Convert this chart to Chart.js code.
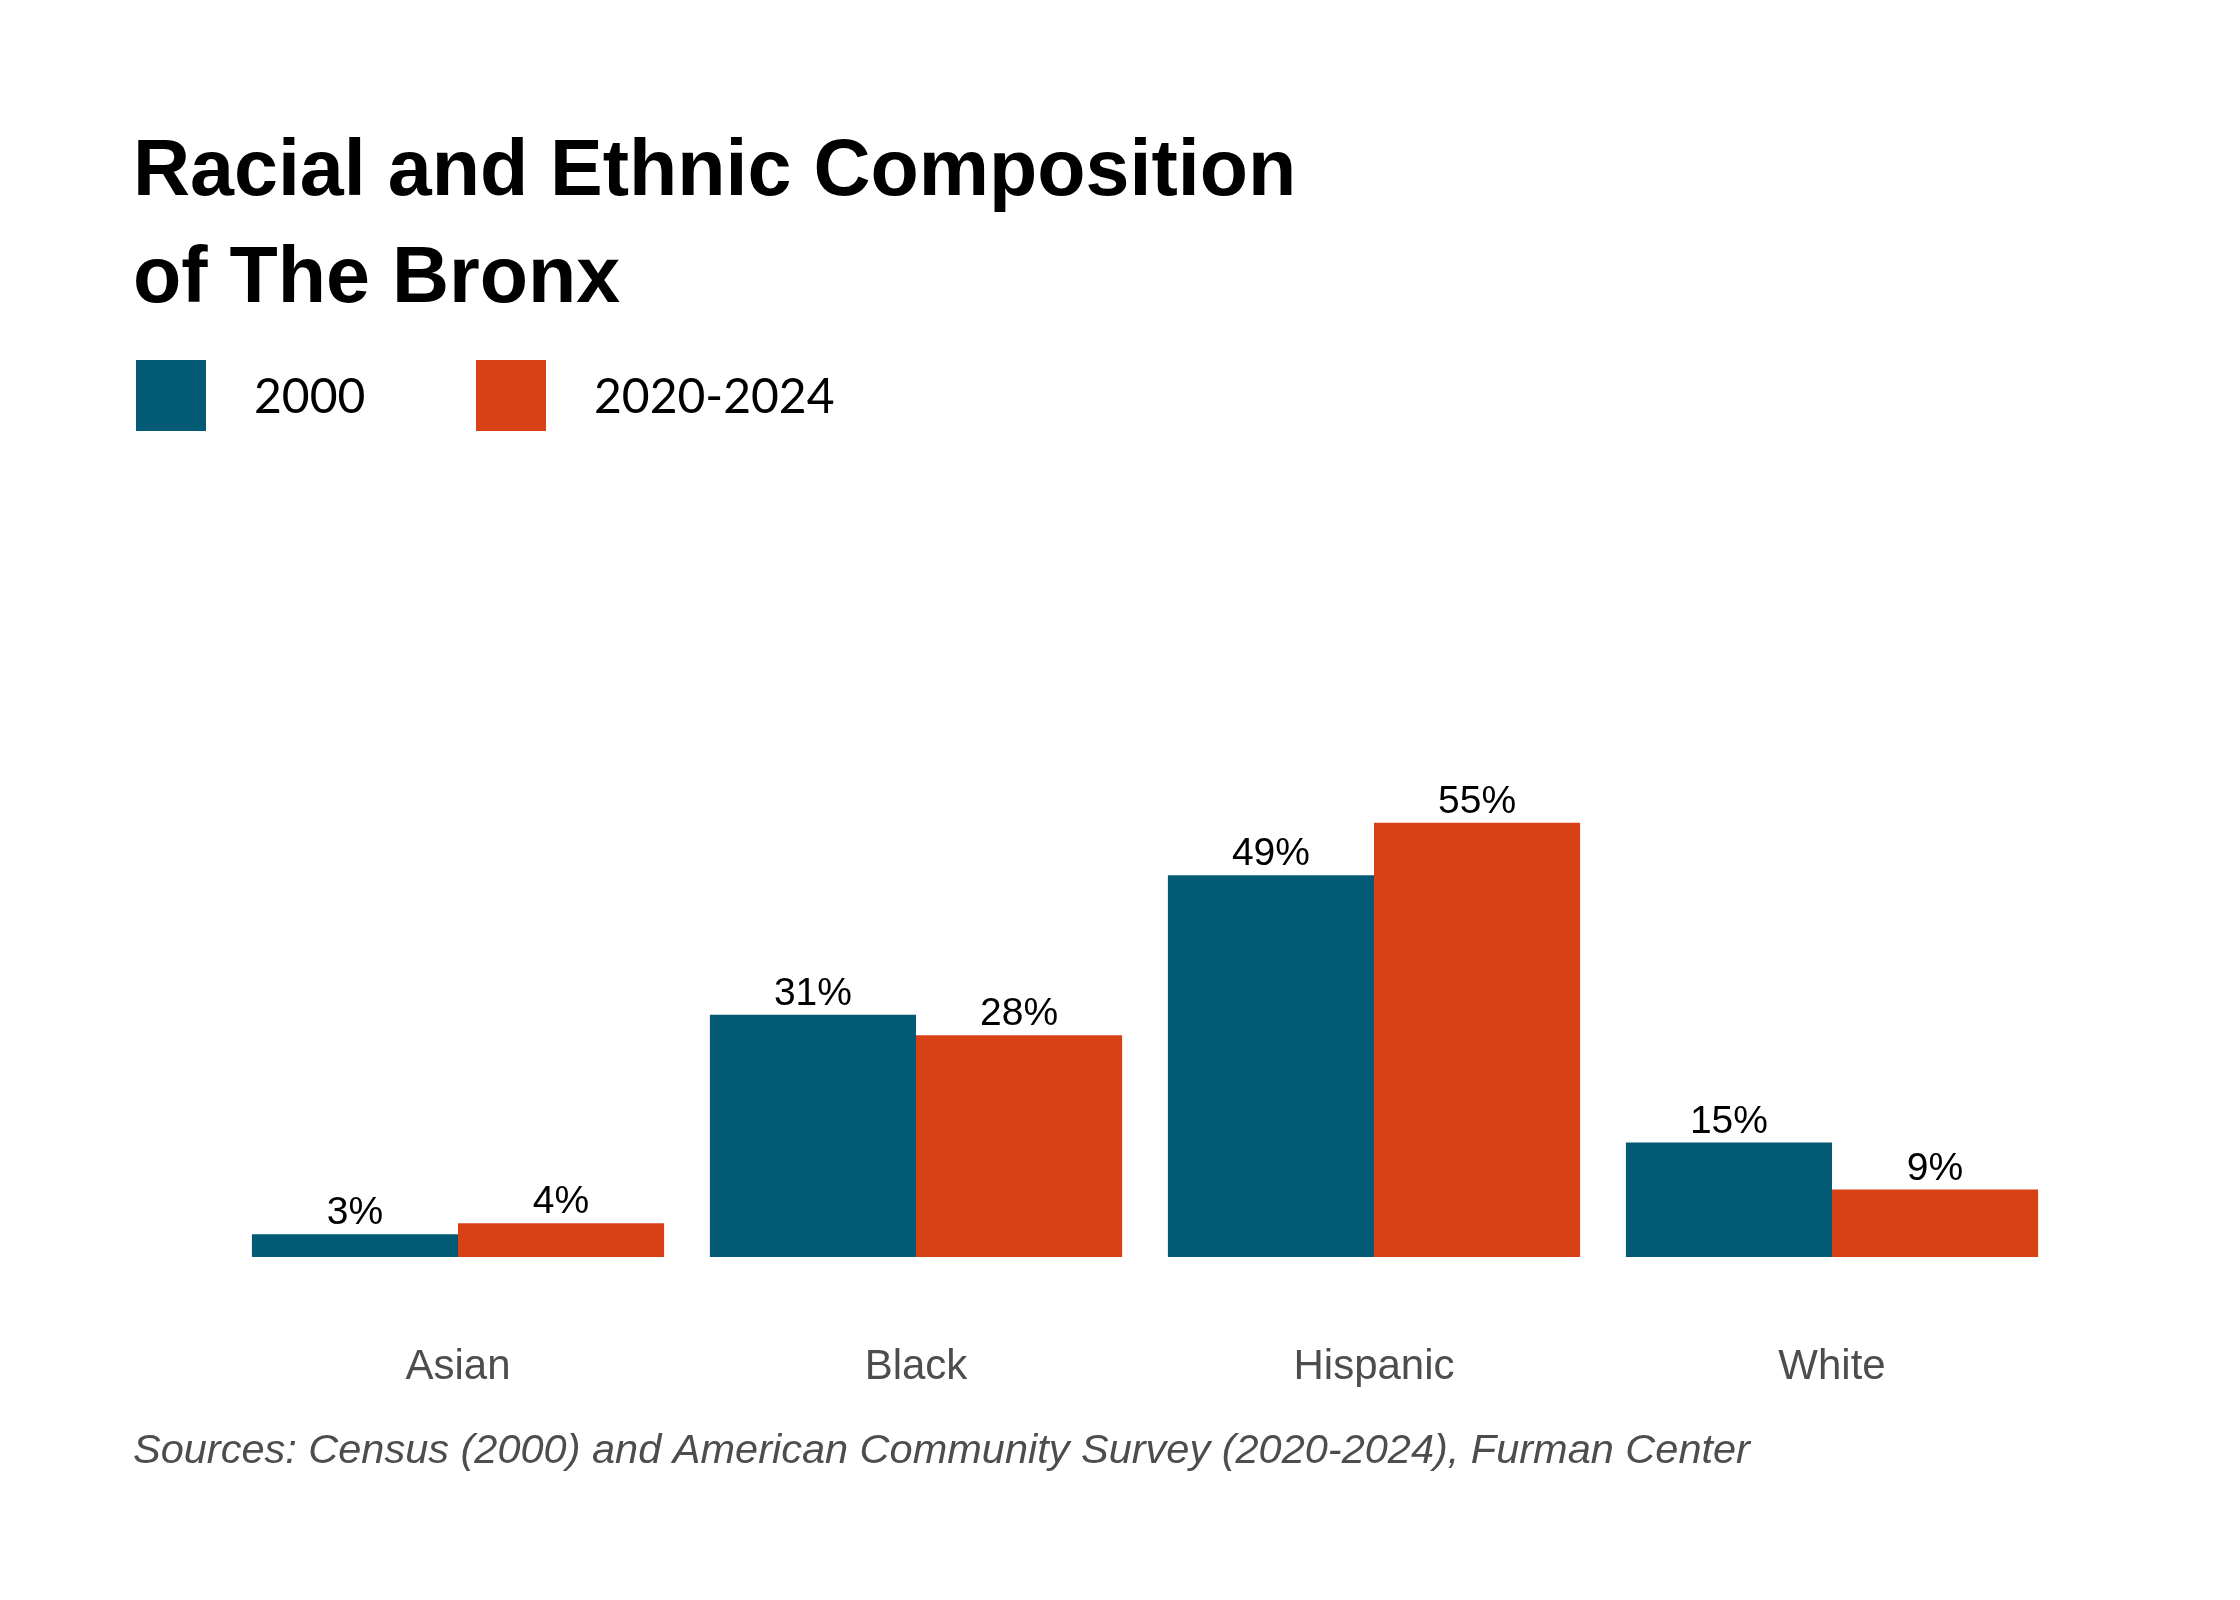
<!DOCTYPE html>
<html>
<head>
<meta charset="utf-8">
<script src="https://cdn.jsdelivr.net/npm/chart.js@4.4.1/dist/chart.umd.min.js"></script>
<style>
html, body { margin: 0; padding: 0; background: #ffffff; }
canvas { display: block; }
</style>
</head>
<body>
<canvas id="chart" width="2240" height="1600"></canvas>
<script>
// ---- data ----
const categories = ['Asian', 'Black', 'Hispanic', 'White'];
const seriesNames = ['2000', '2020-2024'];
const values2000 = [2.9, 30.9, 48.7, 14.6];
const values2020 = [4.3, 28.3, 55.4, 8.6];
const seriesColors = ['#035a74', '#d74115'];
const titleLines = ['Racial and Ethnic Composition', 'of The Bronx'];
const sourceText = 'Sources: Census (2000) and American Community Survey (2020-2024), Furman Center';
const yMax = 100;

const FONT = "'Liberation Sans', Arial, sans-serif";

// value labels above each bar
const barLabels = {
  id: 'barLabels',
  afterDatasetsDraw(chart) {
    const ctx = chart.ctx;
    ctx.save();
    ctx.font = '39px ' + FONT;
    ctx.fillStyle = '#000000';
    ctx.textAlign = 'center';
    ctx.textBaseline = 'alphabetic';
    chart.data.datasets.forEach((ds, i) => {
      const meta = chart.getDatasetMeta(i);
      meta.data.forEach((el, j) => {
        ctx.fillText(Math.round(ds.data[j]) + '%', el.x, el.y - 10);
      });
    });
    ctx.restore();
  }
};

// legend drawn from the datasets
const topLegend = {
  id: 'topLegend',
  afterDraw(chart) {
    const ctx = chart.ctx;
    const boxX = [136, 476];
    ctx.save();
    ctx.font = '48px Lato, ' + FONT;
    ctx.textBaseline = 'middle';
    ctx.textAlign = 'left';
    chart.data.datasets.forEach((ds, i) => {
      const x = boxX[i];
      ctx.fillStyle = ds.backgroundColor;
      ctx.fillRect(x, 360, 70, 71);
      ctx.fillStyle = '#000000';
      ctx.fillText(ds.label, x + 118, 398);
    });
    ctx.restore();
  }
};

new Chart(document.getElementById('chart'), {
  type: 'bar',
  data: {
    labels: categories,
    datasets: [
      { label: seriesNames[0], data: values2000, backgroundColor: seriesColors[0], borderWidth: 0 },
      { label: seriesNames[1], data: values2020, backgroundColor: seriesColors[1], borderWidth: 0 }
    ]
  },
  options: {
    responsive: false,
    devicePixelRatio: 1,
    animation: false,
    events: [],
    layout: { padding: { top: 0, left: 133, right: 179, bottom: 123.4 } },
    datasets: { bar: { categoryPercentage: 0.9, barPercentage: 1.0 } },
    scales: {
      x: {
        grid: { display: false, drawTicks: false },
        border: { display: false },
        ticks: { color: '#4d4d4d', font: { family: FONT, size: 42 }, padding: 85.5 },
        afterFit(s) { s.height = 130; }
      },
      y: {
        min: 0,
        max: yMax,
        grid: { display: false, drawTicks: false },
        border: { display: false },
        ticks: { display: false },
        afterFit(s) { s.width = 96; }
      }
    },
    plugins: {
      legend: { display: false },
      tooltip: { enabled: false },
      title: {
        display: true,
        text: titleLines,
        align: 'start',
        color: '#000000',
        font: { family: FONT, size: 79, weight: 'bold', lineHeight: 107 / 79 },
        padding: { top: 119.5, bottom: 139.5 }
      },
      subtitle: {
        display: true,
        position: 'bottom',
        align: 'start',
        text: sourceText,
        color: '#4d4d4d',
        font: { family: FONT, size: 41.5, style: 'italic', weight: 'normal', lineHeight: 1.2 },
        padding: { top: 39.8, bottom: 0 }
      }
    }
  },
  plugins: [barLabels, topLegend]
});
</script>
</body>
</html>
